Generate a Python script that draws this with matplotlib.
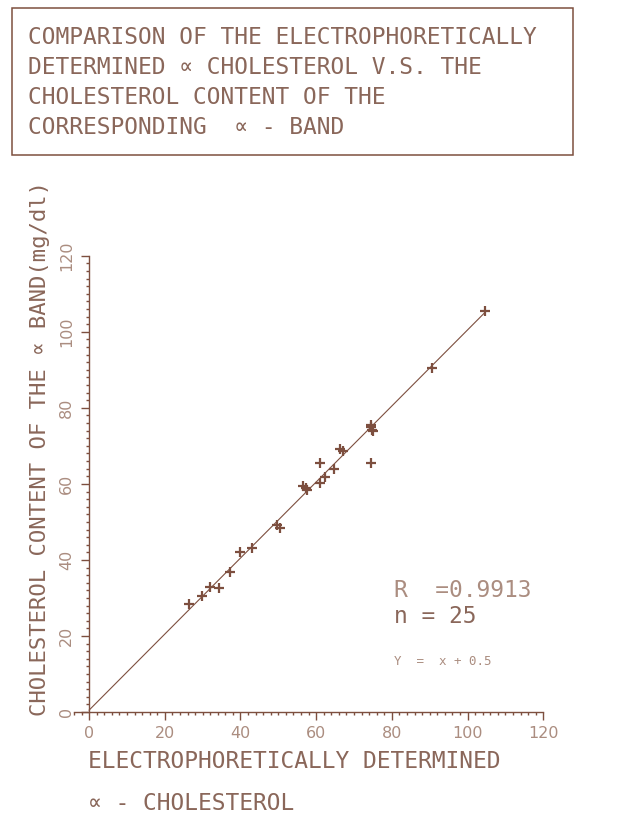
import matplotlib.pyplot as plt
from matplotlib.patches import Rectangle
from matplotlib.ticker import MultipleLocator
import numpy as np

plt.rcParams['font.family'] = ['DejaVu Sans Mono', 'DejaVu Sans']

# electrophoretic alpha cholesterol vs cholesterol in the alpha band (mg/dl)
electro = [26.3, 29.8, 32.0, 34.2, 37.3, 39.9, 43.0, 49.6, 50.5, 56.6,
           57.6, 57.2, 61.1, 62.4, 61.1, 64.6, 66.4, 67.0, 74.5, 74.6,
           74.8, 75.0, 74.6, 90.7, 104.6]
band = [28.4, 30.5, 32.8, 32.5, 36.7, 42.2, 43.2, 49.2, 48.4, 59.5,
        58.4, 58.9, 60.2, 61.8, 65.6, 63.9, 69.3, 68.6, 75.5, 74.9,
        74.3, 73.9, 65.5, 90.4, 105.5]
fit_x = [0, 104.5]
slope, intercept = 1.0, 0.5
r_value = 0.9913

ink = '#7d4f3f'
text_ink = '#8a675a'
faint = '#ab8d80'

fig = plt.figure(figsize=(6.19, 8.27), dpi=100)
W, H = 619, 827

# boxed title
fig.patches.append(Rectangle((12 / W, 1 - 155 / H), 561 / W, 147 / H,
                             transform=fig.transFigure, fill=False,
                             edgecolor=ink, lw=1.1))
title_lines = ["COMPARISON OF THE ELECTROPHORETICALLY",
               "DETERMINED \u221d CHOLESTEROL V.S. THE",
               "CHOLESTEROL CONTENT OF THE",
               "CORRESPONDING  \u221d - BAND"]
for i, line in enumerate(title_lines):
    fig.text(28 / W, 1 - (38 + 30 * i) / H, line, fontsize=16.5,
             color=text_ink, va='center', ha='left')

ax = fig.add_axes([74 / W, 1 - 712 / H, 473 / W, 460 / H])
ax.set_xlim(-4, 121)
ax.set_ylim(0, 121)

xs = np.array(fit_x)
ax.plot(xs, slope * xs + intercept, color=ink, lw=0.8)
ax.scatter(electro, band, marker='+', s=55, color=ink, linewidths=1.6,
           zorder=3)

for side in ['top', 'right']:
    ax.spines[side].set_visible(False)
ax.spines['left'].set_position(('data', 0))
ax.spines['left'].set_bounds(0, 120)
ax.spines['bottom'].set_bounds(-4, 120)
for side in ['left', 'bottom']:
    ax.spines[side].set_color(ink)
    ax.spines[side].set_linewidth(1.0)

ax.xaxis.set_major_locator(MultipleLocator(20))
ax.xaxis.set_minor_locator(MultipleLocator(2))
ax.yaxis.set_major_locator(MultipleLocator(20))
ax.yaxis.set_minor_locator(MultipleLocator(2))
ax.tick_params(which='major', direction='out', length=6, width=1.0,
               color=ink, labelcolor=faint, labelsize=11.5)
ax.tick_params(which='minor', direction='out', length=2.5, width=1.0,
               color=ink)
ax.tick_params(axis='x', pad=4)
ax.tick_params(axis='y', pad=5)
for lab in ax.get_xticklabels() + ax.get_yticklabels():
    lab.set_family('DejaVu Sans')
for lab in ax.get_yticklabels():
    lab.set_rotation(90)
    lab.set_va('center')

# axis titles
fig.text(40 / W, 1 - 449 / H,
         "CHOLESTEROL CONTENT OF THE \u221d BAND(mg/dl)",
         rotation=90, fontsize=16, color=text_ink, ha='center', va='center')
fig.text(88 / W, 1 - 762 / H, "ELECTROPHORETICALLY DETERMINED",
         fontsize=16.5, color=text_ink, ha='left', va='center')
fig.text(88 / W, 1 - 803 / H, "\u221d - CHOLESTEROL",
         fontsize=16.5, color=text_ink, ha='left', va='center')

# statistics
ax.text(80.5, 32, f"R  ={r_value:.4f}", fontsize=16.5, color=faint,
        ha='left', va='center')
ax.text(80.5, 25.2, "n = 25", fontsize=16.5, color=text_ink,
        ha='left', va='center')
ax.text(80.5, 13.3, "Y  =  x + 0.5", fontsize=9, color=faint,
        ha='left', va='center')

fig.savefig('out.png', dpi=100, facecolor='white')
